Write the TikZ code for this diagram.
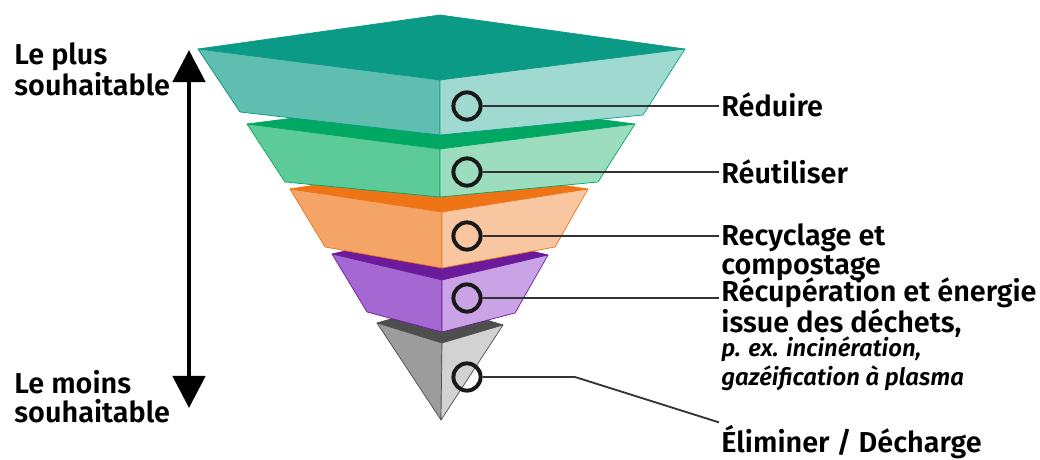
\documentclass[tikz,border=0pt]{standalone}
\usepackage{fontspec}
\setmainfont{Fira Sans}[BoldFont={Fira Sans SemiBold}, BoldItalicFont={Fira Sans SemiBold Italic}]
\usetikzlibrary{arrows.meta}
\definecolor{reduceTop}{HTML}{0A9A86}
\definecolor{reduceLeft}{HTML}{5FBEB0}
\definecolor{reduceRight}{HTML}{A0D9CF}
\definecolor{reuseTop}{HTML}{00A862}
\definecolor{reuseLeft}{HTML}{5CCB99}
\definecolor{reuseRight}{HTML}{9CDDBF}
\definecolor{recycleTop}{HTML}{EE7416}
\definecolor{recycleLeft}{HTML}{F4A467}
\definecolor{recycleRight}{HTML}{F8C6A0}
\definecolor{recoverTop}{HTML}{6B1A9C}
\definecolor{recoverLeft}{HTML}{A567D2}
\definecolor{recoverRight}{HTML}{C9A3E6}
\definecolor{landfillTop}{HTML}{4E4E4E}
\definecolor{landfillLeft}{HTML}{9C9C9C}
\definecolor{landfillRight}{HTML}{D2D2D2}

\begin{document}
\begin{tikzpicture}[x=0.025cm,y=-0.025cm,
  ring/.style={circle, draw=black!90, line width=2.8pt, minimum size=0.68cm, inner sep=0pt},
  lbl/.style={font=\bfseries\fontsize{20.5}{20}\selectfont, align=left, inner sep=1.5pt, anchor=base west},
  link/.style={draw=black!80, line width=1.3pt},
  face/.style={line width=0.5pt, line join=round}]
\useasboundingbox (0,0) rectangle (1040,460);

% layer 5, landfill
\filldraw[face, fill=landfillTop, draw=landfillTop] (377,323) -- (438,305) -- (503,325) -- (442,343) -- cycle;
\filldraw[face, fill=landfillLeft, draw=landfillTop] (377,323) -- (442,343) -- (441,420) -- cycle;
\filldraw[face, fill=landfillRight, draw=landfillTop] (442,343) -- (503,325) -- (441,420) -- cycle;
% layer 4, recovery
\filldraw[face, fill=recoverTop, draw=recoverTop] (332,254) -- (438,229) -- (548,255) -- (442,280) -- cycle;
\filldraw[face, fill=recoverLeft, draw=recoverTop] (332,254) -- (442,280) -- (442,332) -- (367,312) -- cycle;
\filldraw[face, fill=recoverRight, draw=recoverTop] (442,280) -- (548,255) -- (515,313) -- (442,332) -- cycle;
% layer 3, recycling
\filldraw[face, fill=recycleTop, draw=recycleTop] (290,189) -- (436,166) -- (588,189) -- (442,212) -- cycle;
\filldraw[face, fill=recycleLeft, draw=recycleTop] (290,189) -- (442,212) -- (442,268) -- (325,247) -- cycle;
\filldraw[face, fill=recycleRight, draw=recycleTop] (442,212) -- (588,189) -- (555,247) -- (442,268) -- cycle;
% layer 2, reuse
\filldraw[face, fill=reuseTop, draw=reuseTop] (247,124) -- (442,99) -- (635,124) -- (440,149) -- cycle;
\filldraw[face, fill=reuseLeft, draw=reuseTop] (247,124) -- (440,149) -- (440,197) -- (285,182) -- cycle;
\filldraw[face, fill=reuseRight, draw=reuseTop] (440,149) -- (635,124) -- (598,182) -- (440,197) -- cycle;
% layer 1, reduce
\filldraw[face, fill=reduceTop, draw=reduceTop] (198,49) -- (440,15) -- (685,49) -- (440,80) -- cycle;
\filldraw[face, fill=reduceLeft, draw=reduceTop] (198,49) -- (440,80) -- (440,135) -- (240,112) -- cycle;
\filldraw[face, fill=reduceRight, draw=reduceTop] (440,80) -- (685,49) -- (643,115) -- (440,135) -- cycle;

% markers
\node[ring] (c1) at (467,106) {};
\node[ring] (c2) at (467,172) {};
\node[ring] (c3) at (467,236) {};
\node[ring] (c4) at (467,298) {};
\node[ring] (c5) at (467,377) {};

% labels (base = last line)
\node[lbl] (t1) at (719,116) {Réduire};
\node[lbl] (t2) at (719,183) {Réutiliser};
\node[lbl] (t3) at (719,274) {Recyclage et\\compostage};
\node[lbl] (t4) at (719,385) {Récupération et énergie\\issue des déchets,\\[-3pt]
  {\itshape\fontsize{17}{18}\selectfont p. ex. incinération,}\\
  {\itshape\fontsize{17}{18}\selectfont gazéification à plasma}};
\node[lbl] (t5) at (719,452) {Éliminer / Décharge};
\coordinate (k5) at (575,377);

\draw[link] (c1) -- (c1 -| t1.west);
\draw[link] (c2) -- (c2 -| t2.west);
\draw[link] (c3) -- (c3 -| t3.west);
\draw[link] (c4) -- (c4 -| t4.west);
\draw[link] (c5) -- (k5) -- (t5.north west);

% scale
\node[lbl] (best) at (12,95) {Le plus\\souhaitable};
\node[lbl] (worst) at (12,422) {Le moins\\souhaitable};
\coordinate (up) at (189,50);
\coordinate (down) at (189,408);
\draw[line width=3.4pt, {Triangle[length=0.8cm,width=0.8cm]}-{Triangle[length=0.8cm,width=0.8cm]}] (up) -- (down);
\end{tikzpicture}
\end{document}
